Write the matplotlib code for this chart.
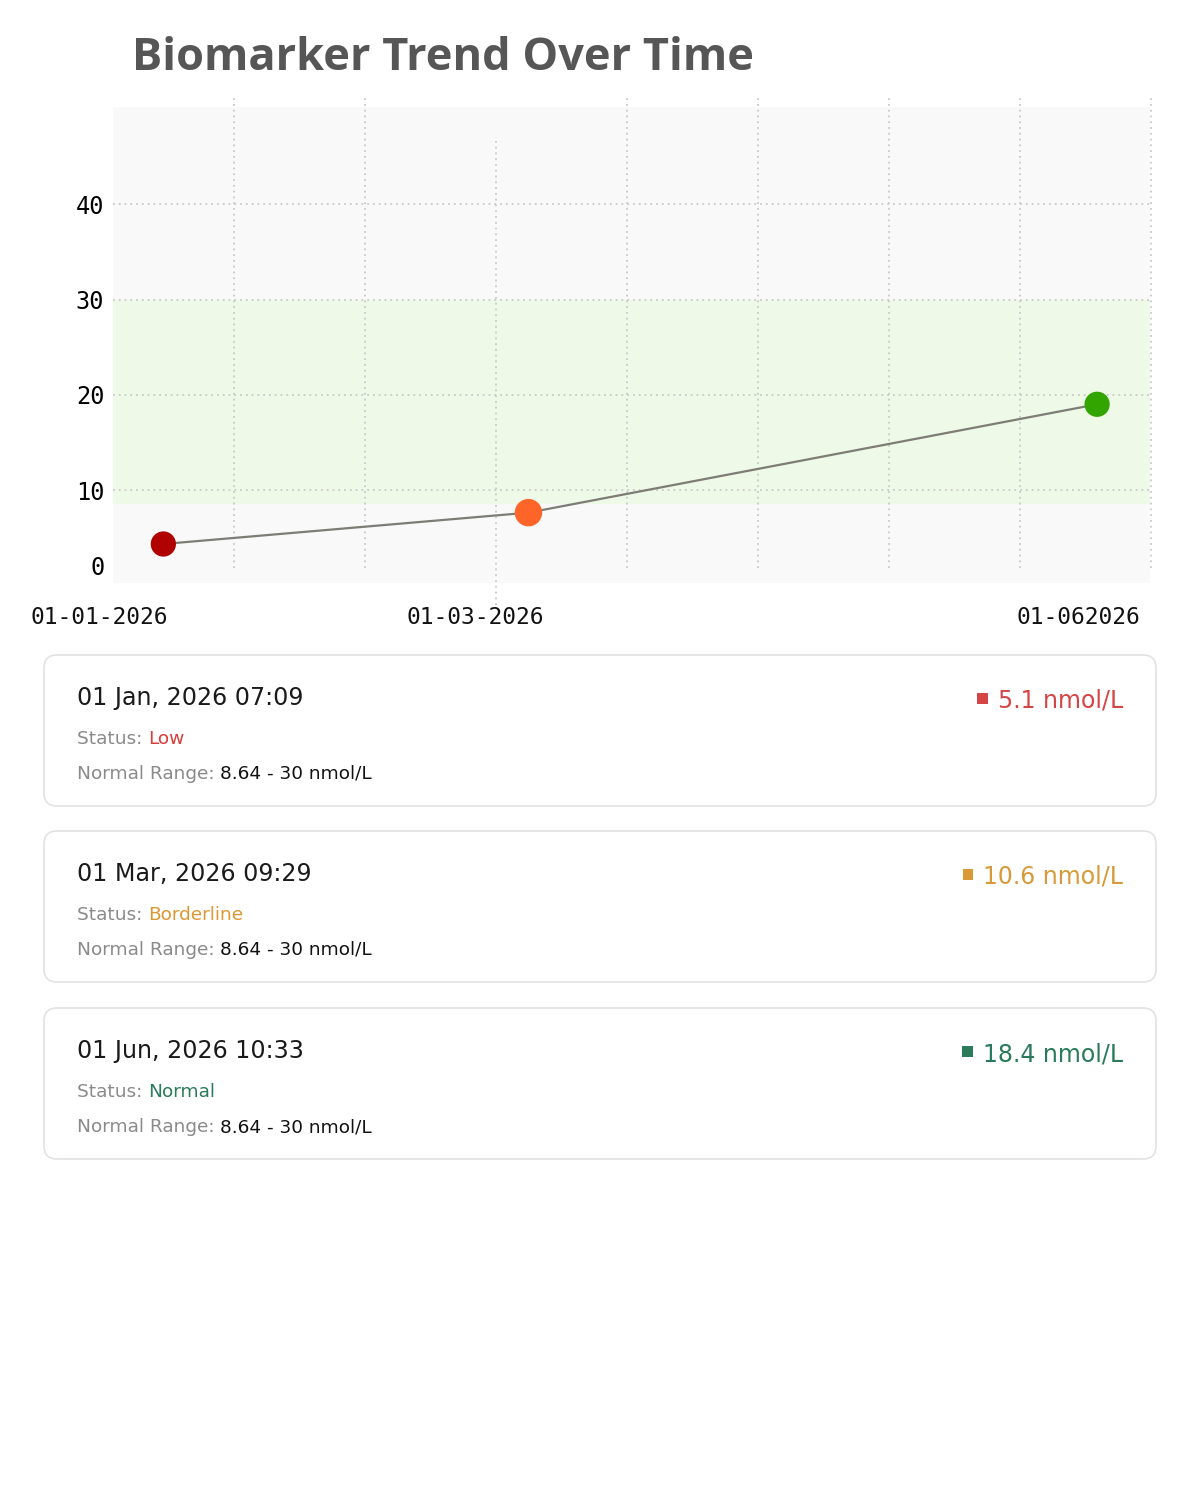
import matplotlib
matplotlib.use("Agg")
import matplotlib.pyplot as plt
import matplotlib.transforms as mtransforms
from matplotlib.patches import FancyBboxPatch, Rectangle
import numpy as np
import pandas as pd

# readings
timestamps = ["2026-01-01 07:09", "2026-03-01 09:29", "2026-06-01 10:33"]
card_dates = ["01 Jan, 2026 07:09", "01 Mar, 2026 09:29", "01 Jun, 2026 10:33"]
values = [5.1, 10.6, 18.4]
units = "nmol/L"
statuses = ["Low", "Borderline", "Normal"]
range_low, range_high = 8.64, 30
# where the markers sit on the chart's own y scale
marker_y = [4.36, 7.65, 19.02]
marker_colors = ["#b00000", "#ff6428", "#32a500"]
status_colors = ["#dc3b3b", "#de9632", "#2a7a5c"]
value_colors = ["#d64545", "#d89a38", "#2a7a5c"]
x_labels = ["01-01-2026", "01-03-2026", "01-062026"]
y_ticks = [10, 20, 30, 40]

start = pd.Timestamp("2026-01-01")
days = [(pd.Timestamp(t) - start).total_seconds() / 86400 for t in timestamps]

W, H = 1200, 1500
fig = plt.figure(figsize=(W / 100, H / 100), dpi=100)
fig.patch.set_facecolor("white")

# chart axes: px 112.7..1150 horizontally, 107.3..582.7 vertically
ax = fig.add_axes([112.7 / W, 1 - 582.7 / H, (1150 - 112.7) / W, (582.7 - 107.3) / H])
ax.set_facecolor("#f9f9f9")
for s in ax.spines.values():
    s.set_visible(False)
ax.set_xlim(-7.9, 160.0)
ax.set_ylim(0.3, 50.18)

ax.axhspan(range_low, range_high, color="#eef9e8", zorder=0)

dot = (0, (1, 2.2))
gcol = "#c9c9c9"
for v in y_ticks:
    ax.axhline(v, color=gcol, lw=1.3, ls=dot, zorder=1)

# vertical grid, every ~131 px; the third one is drawn lower/longer
trans = mtransforms.blended_transform_factory(ax.transData, ax.transAxes)
grid_days = 11.8 + 21.19 * np.arange(8)
for i, gx in enumerate(grid_days):
    if i == 2:
        y0, y1 = -0.046, 0.937
    else:
        y0, y1 = 0.03, 1.025
    ax.plot([gx, gx], [y0, y1], transform=trans, color=gcol, lw=1.3, ls=dot,
            clip_on=False, zorder=1)

ax.plot(days, marker_y, color="#7d7d76", lw=1.6, zorder=3)
ax.scatter(days, marker_y, s=[330, 390, 330], c=marker_colors, zorder=4, linewidths=0)

tick_font = "DejaVu Sans Mono"
ax.set_yticks(y_ticks)
ax.set_yticklabels([str(v) for v in y_ticks], fontsize=17, family=tick_font)
ax.tick_params(axis="y", length=0, pad=6)
ax.text(-0.008, 1.85, "0", transform=mtransforms.blended_transform_factory(ax.transAxes, ax.transData),
        ha="right", va="center", fontsize=17, family=tick_font)
ax.set_xticks([])

label_px = [99, 475, 1078]
for lbl, px in zip(x_labels, label_px):
    fig.text(px / W, 1 - 617 / H, lbl, ha="center", va="center", fontsize=16.5,
             family=tick_font, color="#111111")

fig.text(132 / W, 1 - 58 / H, "Biomarker Trend Over Time", ha="left", va="center",
         fontsize=32.5, fontweight="bold", family="Open Sans", color="#565656")

# cards drawn in pixel space
ov = fig.add_axes([0, 0, 1, 1], zorder=5)
ov.set_xlim(0, W)
ov.set_ylim(H, 0)
ov.axis("off")
ov.patch.set_alpha(0)

card_top = [655, 831, 1008]
card_h = 151
small = 13.3
value_texts = []
for i in range(3):
    top = card_top[i]
    ov.add_patch(FancyBboxPatch((44, top), 1112, card_h,
                                boxstyle="round,pad=0,rounding_size=13",
                                fc="white", ec="#e2e2e2", lw=1.2))
    ov.text(77, top + 43, card_dates[i], ha="left", va="center", fontsize=17.1, color="#1a1a1a")
    t1 = ov.text(77, top + 84, "Status: ", ha="left", va="center", fontsize=small, color="#8a8a8a")
    ov.annotate(statuses[i], xycoords=t1, xy=(1, 0.5), va="center", ha="left",
                fontsize=small, color=status_colors[i])
    t2 = ov.text(77, top + 119, "Normal Range: ", ha="left", va="center", fontsize=small, color="#8a8a8a")
    ov.annotate(f"{range_low} - {range_high} {units}", xycoords=t2, xy=(1, 0.5), va="center",
                ha="left", fontsize=small, color="#111111")
    vt = ov.text(1123, top + 46, f"{values[i]} {units}", ha="right", va="center",
                 fontsize=17, color=value_colors[i])
    value_texts.append(vt)

fig.canvas.draw()
r = fig.canvas.get_renderer()
for i, vt in enumerate(value_texts):
    bb = vt.get_window_extent(r)
    left_px = bb.x0
    cy = card_top[i] + 43
    ov.add_patch(Rectangle((left_px - 20.5, cy - 5), 10.5, 10.5, fc=value_colors[i], ec="none"))

fig.savefig("out.png", dpi=100, facecolor="white")
